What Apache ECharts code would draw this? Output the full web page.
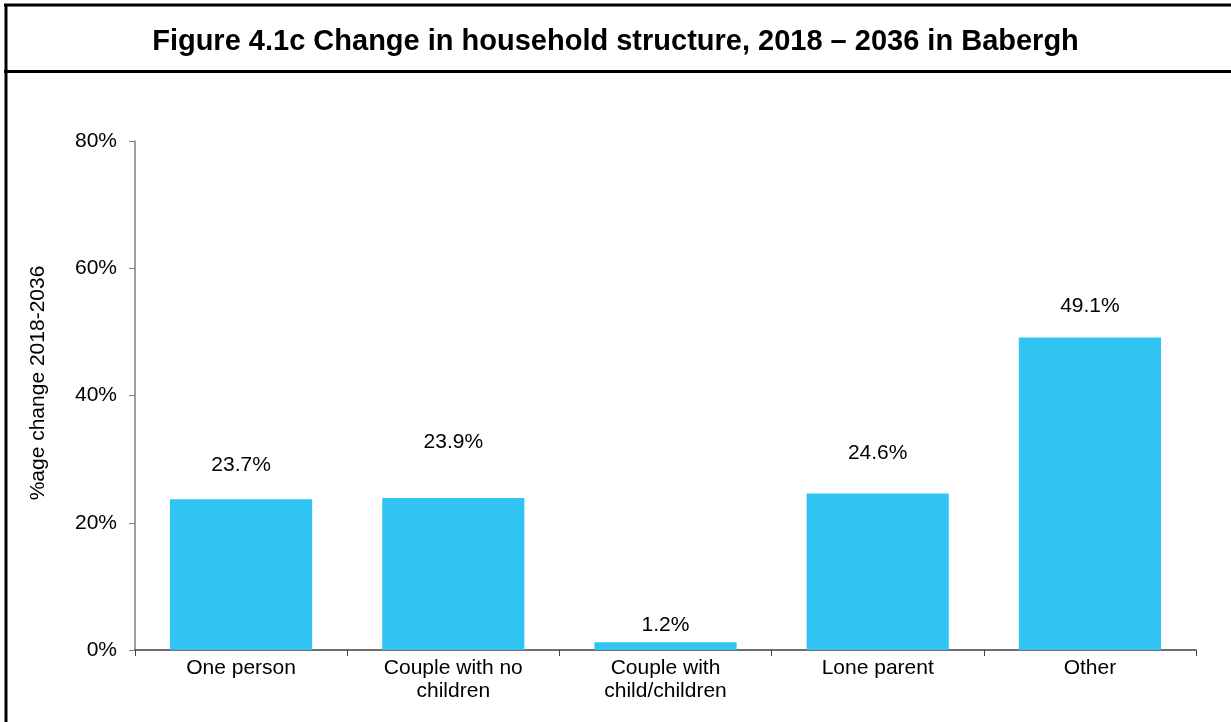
<!DOCTYPE html>
<html>
<head>
<meta charset="utf-8">
<script src="https://cdn.jsdelivr.net/npm/echarts@6/dist/echarts.min.js"></script>
<style>
html,body{margin:0;padding:0;background:#fff;}
#chart{width:1231px;height:722px;}
</style>
</head>
<body>
<div id="chart"></div>
<script>
const categories = ['One person', 'Couple with no\nchildren', 'Couple with\nchild/children', 'Lone parent', 'Other'];
const values = [23.7, 23.9, 1.2, 24.6, 49.1];
const yTicks = [0, 20, 40, 60, 80];
const titleText = 'Figure 4.1c Change in household structure, 2018 \u2013 2036 in Babergh';
const yAxisTitle = '%age change 2018-2036';
// label distances above bars (styling, as placed in the original)
const labelDistance = [24, 45, 7, 30, 21];

const FONT = '"Liberation Sans", Arial, sans-serif';
const chart = echarts.init(document.getElementById('chart'), null, {renderer: 'canvas'});
chart.setOption({
  animation: false,
  backgroundColor: '#ffffff',
  title: {
    text: titleText,
    left: 'center',
    top: 22,
    textStyle: {fontFamily: FONT, fontSize: 29, fontWeight: 'bold', color: '#000'}
  },
  graphic: [
    {type: 'line', shape: {x1: 4, y1: 5, x2: 1231, y2: 5}, style: {stroke: '#000', lineWidth: 3}},
    {type: 'line', shape: {x1: 6, y1: 4, x2: 6, y2: 722}, style: {stroke: '#000', lineWidth: 3}},
    {type: 'line', shape: {x1: 4, y1: 71.5, x2: 1231, y2: 71.5}, style: {stroke: '#000', lineWidth: 3}},
    {type: 'text', x: 38, y: 383, rotation: Math.PI / 2,
     style: {text: yAxisTitle, font: '21px ' + FONT, fill: '#000', textAlign: 'center', textVerticalAlign: 'middle'}}
  ],
  grid: {left: 135, right: 35, top: 141, bottom: 72, containLabel: false},
  xAxis: {
    type: 'category',
    data: categories,
    axisLine: {lineStyle: {color: '#404040', width: 1.5}},
    axisTick: {show: true, alignWithLabel: false, length: 6, lineStyle: {color: '#404040'}},
    axisLabel: {fontFamily: FONT, fontSize: 21, color: '#000', margin: 7, lineHeight: 23, interval: 0}
  },
  yAxis: {
    type: 'value',
    min: 0, max: 80, interval: 20,
    axisLine: {show: true, lineStyle: {color: '#808080', width: 1.5}},
    axisTick: {show: true, length: 6, lineStyle: {color: '#808080'}},
    splitLine: {show: false},
    axisLabel: {fontFamily: FONT, fontSize: 21, color: '#000', margin: 18,
      formatter: v => yTicks.includes(v) ? v + '%' : ''}
  },
  series: [{
    type: 'bar',
    data: values.map((v, i) => ({value: v, label: {distance: labelDistance[i]}})),
    barCategoryGap: '33%',
    itemStyle: {color: '#31C4F3'},
    label: {show: true, position: 'top', fontFamily: FONT, fontSize: 21, color: '#000',
      formatter: p => p.value.toFixed(1) + '%'}
  }]
});
</script>
</body>
</html>
